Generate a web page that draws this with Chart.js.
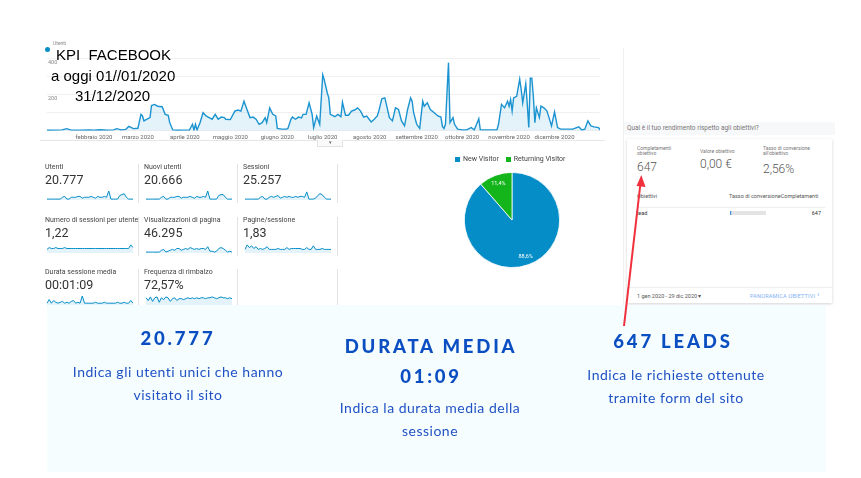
<!DOCTYPE html>
<html lang="it">
<head>
  <meta charset="UTF-8" />
  <title>KPI FACEBOOK 2020</title>
  <script src="https://cdn.jsdelivr.net/npm/chart.js"></script>
  <style>
    html, body {
      margin: 0;
      padding: 0;
      width: 861px;
      height: 478px;
      overflow: hidden;
      background: #fff;
      font-family: Roboto, Arial, sans-serif;
      position: relative;
    }
    .abs { position: absolute; }
    canvas { display: block; }

    #titolo {
      left: 51px; top: 45px;
      font-family: "Liberation Sans", Arial, sans-serif;
      font-size: 15px; color: #000; line-height: 20.5px;
    }
    .legDot { width: 5px; height: 5px; border-radius: 50%; background: #058dc7; }

    .card .lab { font-size: 7px; color: #444; white-space: nowrap; line-height: 8px; }
    .card .val { font-size: 12.5px; color: #333; margin-top: 2px; line-height: 13px; }
    .sep { width: 1px; background: #e3e3e3; }

    .pieLeg { font-size: 7px; color: #444; display: flex; align-items: center; gap: 3px; }
    .pieLeg i { display: inline-block; width: 5px; height: 5px; }

    #pannello { left: 623px; top: 48px; width: 212px; height: 257px; border-left: 1px solid #eef0f2; }
    #domanda { left: 624px; top: 122px; width: 211px; height: 13px; background: #f7f8f9;
      font-size: 6.5px; color: #777; line-height: 13px; padding-left: 3px; box-sizing: border-box; }
    #scheda { left: 627px; top: 139px; width: 205px; height: 164px; background: #fff;
      box-shadow: 0 1px 3px rgba(0,0,0,0.18); }
    .mini { font-size: 5px; color: #777; line-height: 5px; }
    .gval { font-size: 12px; color: #555; font-weight: 300; }
    .tab { font-size: 5.5px; color: #555; }

    #riquadro { left: 47px; top: 305px; width: 779px; height: 167px; background: #f5fdff; }
    .head { font-family: Lato, sans-serif; font-weight: 900; color: #0b4ec2;
      font-size: 18.5px; letter-spacing: 2.8px; text-align: center; width: 270px; }
    .desc { font-family: Lato, sans-serif; color: #2052c4; font-size: 14px; letter-spacing: 0.5px;
      line-height: 23px; text-align: center; width: 270px; }
  </style>
</head>
<body>
  <!-- andamento utenti -->
  <canvas id="mainChart" class="abs" style="left:43px;top:52px;" width="559" height="92"></canvas>
  <div class="abs" style="left:40px;top:140px;width:565px;height:1px;background:#e6e6e6;"></div>
  <div class="abs" style="left:317px;top:140px;width:24px;height:6px;border:1px solid #e3e3e3;border-top:none;font-size:5px;color:#666;text-align:center;line-height:5px;background:#fafafa;">&#9662;</div>
  <div class="abs legDot" style="left:45px;top:47px;"></div>
  <div class="abs" style="left:53px;top:40px;font-size:5px;line-height:6px;color:#888;">Utenti</div>
  <div id="titolo" class="abs">
    <div style="padding-left:5px;">KPI&nbsp; FACEBOOK</div>
    <div>a oggi 01//01/2020</div>
    <div style="padding-left:24px;">31/12/2020</div>
  </div>

  <!-- metriche -->
  <div id="cards"></div>

  <!-- torta visitatori -->
  <div class="abs pieLeg" style="left:455px;top:155px;">
    <i style="background:#058dc7"></i><span>New Visitor</span>
    <i style="background:#13b51b;margin-left:4px;"></i><span>Returning Visitor</span>
  </div>
  <canvas id="pieChart" class="abs" style="left:464px;top:172px;" width="96" height="96"></canvas>

  <!-- pannello obiettivi -->
  <div id="pannello" class="abs"></div>
  <div id="domanda" class="abs">Qual è il tuo rendimento rispetto agli obiettivi?</div>
  <div id="scheda" class="abs"></div>
  <div class="abs mini" style="left:637px;top:146px;">Completamenti<br>obiettivo</div>
  <div class="abs gval" id="gCompl" style="left:637px;top:160px;"></div>
  <div class="abs mini" style="left:700px;top:149px;">Valore obiettivo</div>
  <div class="abs gval" id="gValore" style="left:700px;top:157px;"></div>
  <div class="abs mini" style="left:763px;top:146px;">Tasso di conversione<br>all'obiettivo</div>
  <div class="abs gval" id="gTasso" style="left:763px;top:162px;"></div>
  <div class="abs tab" style="left:637px;top:193px;">Obiettivi</div>
  <div class="abs tab" style="left:729px;top:193px;">Tasso di conversioneCompletamenti</div>
  <div class="abs" style="left:637px;top:207px;width:188px;height:1px;background:#eee;"></div>
  <div class="abs tab" id="gNome" style="left:637px;top:210px;color:#333;"></div>
  <canvas id="convBar" class="abs" style="left:730px;top:211px;" width="36" height="4"></canvas>
  <div class="abs tab" id="gLead" style="left:790px;top:210px;width:31px;text-align:right;color:#333;"></div>
  <div class="abs" style="left:627px;top:287px;width:205px;height:1px;background:#eee;"></div>
  <div class="abs tab" style="left:637px;top:293px;">1 gen 2020 - 29 dic 2020 &#9662;</div>
  <div class="abs tab" style="left:750px;top:293px;color:#7fb0f5;letter-spacing:0.2px;">PANORAMICA OBIETTIVI</div>
  <div class="abs" style="left:817px;top:290px;font-size:8px;color:#7fb0f5;">&#8250;</div>

  <!-- riquadro di sintesi -->
  <div id="riquadro" class="abs"></div>
  <div class="abs head" style="left:43px;top:327px;">20.777</div>
  <div class="abs desc" style="left:43px;top:360px;">Indica gli utenti unici che hanno<br>visitato il sito</div>
  <div class="abs head" style="left:296px;top:331px;line-height:30px;">DURATA MEDIA<br>01:09</div>
  <div class="abs desc" style="left:295px;top:396px;">Indica la durata media della<br>sessione</div>
  <div class="abs head" style="left:538px;top:330px;">647 LEADS</div>
  <div class="abs desc" style="left:541px;top:363px;">Indica le richieste ottenute<br>tramite form del sito</div>

  <svg class="abs" style="left:0;top:0;" width="861" height="478">
    <line x1="624" y1="326" x2="640.5" y2="183" stroke="#f0303c" stroke-width="2" />
    <polygon points="641.3,175 636.5,186 645.5,187" fill="#f0303c" />
  </svg>

  <script>
    // giorno dell'anno (0 = 1 gen 2020) e utenti giornalieri
    const giorni = [0,5,10,13,16,22,28,31,35,40,44,46,49,52,54,57,60,62,63,64,66,68,69,71,73,76,78,80,81,83,
      86,90,94,96,97,98,99,101,103,105,107,109,111,113,115,117,118,121,124,126,128,130,132,134,136,138,140,142,
      144,145,147,149,151,152,155,158,159,161,162,164,166,168,169,171,173,175,176,178,180,182,183,185,186,187,
      190,192,194,195,197,199,201,203,205,207,209,211,214,216,218,219,221,223,224,226,228,230,232,234,236,238,
      240,241,242,244,246,248,249,251,253,255,258,260,261,262,263,265,266,268,269,271,274,277,280,282,285,286,
      290,294,297,298,300,302,304,305,306,307,308,310,312,313,314,316,317,318,319,320,321,322,323,325,326,328,
      330,332,333,335,337,339,343,347,351,353,355,357,359,361,364,365];
    const utenti = [3,4,5,12,4,4,5,4,6,4,5,12,5,8,24,12,14,91,82,55,64,73,140,146,136,133,91,86,45,5,
      3,4,4,36,5,36,5,45,100,82,73,64,91,64,76,73,64,62,109,115,109,164,118,73,76,64,36,45,
      73,45,127,91,82,13,9,9,13,64,76,64,76,71,91,91,155,91,18,82,36,309,282,209,182,91,
      78,91,78,158,86,86,109,115,127,109,76,82,49,64,82,109,177,182,146,73,55,127,118,55,27,118,
      182,164,100,36,13,164,136,155,118,104,82,76,24,13,36,377,45,73,36,9,5,5,18,5,67,5,
      5,5,5,36,146,127,164,136,173,109,182,191,286,227,155,260,146,18,291,291,191,45,127,73,136,127,
      109,55,27,104,18,9,9,9,22,5,9,55,27,22,18,5];

    const inizioMese = [31, 60, 91, 121, 152, 182, 213, 244, 274, 305, 335];
    const etichetteMese = ['febbraio 2020', 'marzo 2020', 'aprile 2020', 'maggio 2020', 'giugno 2020',
      'luglio 2020', 'agosto 2020', 'settembre 2020', 'ottobre 2020', 'novembre 2020', 'dicembre 2020'];
    const tickAsseY = [200, 400];

    // schede metriche
    const nomiMetriche = ['Utenti', 'Nuovi utenti', 'Sessioni', 'Numero di sessioni per utente',
      'Visualizzazioni di pagina', 'Pagine/sessione', 'Durata sessione media', 'Frequenza di rimbalzo'];
    const valoriMetriche = ['20.777', '20.666', '25.257', '1,22', '46.295', '1,83', '00:01:09', '72,57%'];
    const sparkUtenti = [1,1,1,1,1,1,1,3,4,1,1,3,3,3,4,4,2,3,3,3,4,3,2,4,3,3,4,3,10,1,1,1,1,5,6,7,3,1,1,1];
    const sparkNuovi = [1,1,1,1,1,1,1,3,4,1,1,3,3,3,4,4,2,3,3,3,4,3,2,4,3,3,4,3,10,1,1,1,1,5,6,6,3,1,1,1];
    const sparkSessioni = [1,1,1,1,1,1,1,3,4,1,1,3,4,3,4,5,2,3,4,3,4,3,3,4,3,4,4,3,9,1,1,1,2,5,7,6,3,1,1,1];
    const sparkSessUtente = [4,6,5,5,6,5,5,5,6,5,5,5,5,5,5,5,5,5,5,5,5,5,5,5,5,5,5,5,5,5,5,5,5,5,5,5,5,5,9,6];
    const sparkVisual = [1,1,1,1,1,1,1,3,4,1,2,3,4,3,5,5,3,4,5,4,6,5,4,5,4,5,5,4,7,2,2,1,2,5,6,5,3,1,2,1];
    const sparkPagine = [4,9,6,8,5,7,4,5,4,5,7,4,4,4,4,5,4,4,4,6,4,5,5,5,5,5,4,4,6,4,4,8,4,4,4,5,4,4,4,4];
    const sparkDurata = [2,6,2,5,3,2,3,4,2,3,2,4,5,2,3,2,10,2,2,2,2,2,3,2,2,2,3,2,2,2,2,2,3,2,2,3,2,2,5,2];
    const sparkRimbalzo = [8,5,9,4,8,9,3,8,6,9,8,4,7,8,5,7,7,6,7,8,7,8,7,8,7,8,8,7,8,8,9,8,7,8,9,8,8,7,8,7];

    // visitatori
    const tipiVisitatore = ['New Visitor', 'Returning Visitor'];
    const quoteVisitatore = [88.6, 11.4];

    // obiettivi
    const completamenti = 647;
    const valoreObiettivo = '0,00 €';
    const tassoConversione = 2.56;
    const nomeObiettivo = 'lead';

    const BLU = '#058dc7';
    const LINEA = '#1a93d0';
    const RIEMPI = 'rgba(5,141,199,0.11)';

    new Chart(document.getElementById('mainChart'), {
      type: 'line',
      data: {
        datasets: [{
          data: giorni.map((g, i) => ({ x: g, y: utenti[i] })),
          borderColor: LINEA,
          backgroundColor: RIEMPI,
          fill: 'origin',
          borderWidth: 1.4,
          pointRadius: 0,
          tension: 0
        }]
      },
      options: {
        responsive: false,
        animation: false,
        layout: { padding: { top: 6.5, bottom: 0, left: 2, right: 2 } },
        plugins: { legend: { display: false }, tooltip: { enabled: false } },
        scales: {
          x: {
            type: 'linear', min: 0, max: 365,
            grid: { display: false, drawTicks: false },
            border: { display: false },
            afterBuildTicks: s => { s.ticks = inizioMese.map(v => ({ value: v })); },
            ticks: {
              autoSkip: false, maxRotation: 0, padding: 3,
              font: { size: 6, family: 'Roboto' }, color: '#666',
              callback: (v, i) => etichetteMese[i]
            }
          },
          y: {
            min: 0, max: 400,
            grid: { color: '#ececec', drawTicks: false, lineWidth: 0.8 },
            border: { display: false },
            ticks: {
              stepSize: 100, mirror: true, padding: 1, labelOffset: 4,
              font: { size: 5.5, family: 'Roboto' }, color: '#888',
              callback: v => tickAsseY.includes(v) ? String(v) : ''
            }
          }
        }
      }
    });

    // costruzione schede con sparkline
    const sparkSerie = [sparkUtenti, sparkNuovi, sparkSessioni, sparkSessUtente,
      sparkVisual, sparkPagine, sparkDurata, sparkRimbalzo];
    const colX = [45, 144, 243];
    const rigaY = [163, 216, 268];
    const contenitore = document.getElementById('cards');

    nomiMetriche.forEach((nome, i) => {
      const c = i % 3, r = Math.floor(i / 3);
      const card = document.createElement('div');
      card.className = 'abs card';
      card.style.left = colX[c] + 'px';
      card.style.top = rigaY[r] + 'px';
      card.innerHTML = '<div class="lab">' + nome + '</div><div class="val">' + valoriMetriche[i] + '</div>';
      contenitore.appendChild(card);

      const cv = document.createElement('canvas');
      cv.className = 'abs';
      cv.width = 88; cv.height = 11;
      cv.style.left = (colX[c] + 1) + 'px';
      cv.style.top = (rigaY[r] + 27) + 'px';
      contenitore.appendChild(cv);

      new Chart(cv, {
        type: 'line',
        data: {
          labels: sparkSerie[i].map((_, k) => k),
          datasets: [{
            data: sparkSerie[i], borderColor: BLU, backgroundColor: RIEMPI,
            fill: 'origin', borderWidth: 1, pointRadius: 0, tension: 0
          }]
        },
        options: {
          responsive: false, animation: false,
          layout: { padding: 1 },
          plugins: { legend: { display: false }, tooltip: { enabled: false } },
          scales: { x: { display: false }, y: { display: false, min: 0 } }
        }
      });
    });

    // separatori verticali
    [138, 237, 337].forEach(x => {
      rigaY.forEach(y => {
        const s = document.createElement('div');
        s.className = 'abs sep';
        s.style.left = x + 'px';
        s.style.top = (y + 1) + 'px';
        s.style.height = '39px';
        contenitore.appendChild(s);
      });
    });

    const etichettePercentuali = {
      id: 'etichettePercentuali',
      afterDatasetsDraw(chart) {
        const ctx = chart.ctx;
        const meta = chart.getDatasetMeta(0);
        ctx.save();
        ctx.fillStyle = '#fff';
        ctx.font = '5.5px Roboto';
        ctx.textAlign = 'center';
        ctx.textBaseline = 'middle';
        meta.data.forEach((arc, i) => {
          const p = arc.getProps(['x', 'y', 'startAngle', 'endAngle', 'outerRadius']);
          const mid = (p.startAngle + p.endAngle) / 2;
          const r = p.outerRadius * 0.82;
          const testo = quoteVisitatore[i].toFixed(1).replace('.', ',') + '%';
          ctx.fillText(testo, p.x + Math.cos(mid) * r, p.y + Math.sin(mid) * r);
        });
        ctx.restore();
      }
    };

    new Chart(document.getElementById('pieChart'), {
      type: 'pie',
      data: {
        labels: tipiVisitatore,
        datasets: [{
          data: quoteVisitatore,
          backgroundColor: [BLU, '#13b51b'],
          borderColor: '#fff',
          borderWidth: 0.8
        }]
      },
      options: {
        responsive: false, animation: false,
        layout: { padding: 0 },
        plugins: { legend: { display: false }, tooltip: { enabled: false } }
      },
      plugins: [etichettePercentuali]
    });

    document.getElementById('gCompl').textContent = completamenti;
    document.getElementById('gValore').textContent = valoreObiettivo;
    document.getElementById('gTasso').textContent = tassoConversione.toFixed(2).replace('.', ',') + '%';
    document.getElementById('gNome').textContent = nomeObiettivo;
    document.getElementById('gLead').textContent = completamenti;

    new Chart(document.getElementById('convBar'), {
      type: 'bar',
      data: {
        labels: [nomeObiettivo],
        datasets: [
          { data: [tassoConversione], backgroundColor: '#4a8fe0', barPercentage: 1, categoryPercentage: 1 },
          { data: [100 - tassoConversione], backgroundColor: '#e4e4e4', barPercentage: 1, categoryPercentage: 1 }
        ]
      },
      options: {
        indexAxis: 'y', responsive: false, animation: false,
        layout: { padding: 0 },
        plugins: { legend: { display: false }, tooltip: { enabled: false } },
        scales: {
          x: { display: false, stacked: true, min: 0, max: 100 },
          y: { display: false, stacked: true }
        }
      }
    });
  </script>
</body>
</html>
